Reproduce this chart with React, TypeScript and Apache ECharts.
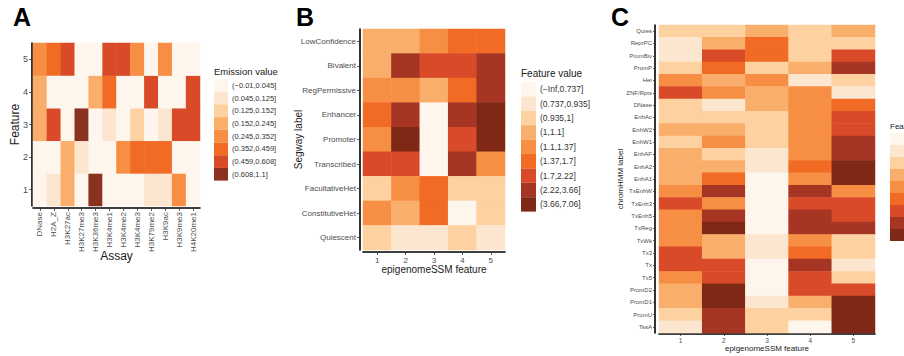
import React, { useEffect, useRef } from 'react';
import * as echarts from 'echarts';

// ---------- Panel A data ----------
const assays = ['DNase', 'H2A_Z', 'H3K27ac', 'H3K27me3', 'H3K36me3', 'H3K4me1', 'H3K4me2', 'H3K4me3', 'H3K79me2', 'H3K9ac', 'H3K9me3', 'H4K20me1'];
const featuresA = ['1', '2', '3', '4', '5'];
const emissionF1 = [0.01, 0.07, 0.22, 0.02, 0.81, 0.02, 0.01, 0.03, 0.09, 0.08, 0.33, 0.02];
const emissionF2 = [0.02, 0.03, 0.18, 0.06, 0.01, 0.02, 0.28, 0.37, 0.42, 0.39, 0.02, 0.03];
const emissionF3 = [0.17, 0.51, 0.03, 0.72, 0.02, 0.07, 0.03, 0.14, 0.02, 0.08, 0.49, 0.53];
const emissionF4 = [0.21, 0.03, 0.02, 0.04, 0.19, 0.38, 0.02, 0.03, 0.48, 0.02, 0.01, 0.47];
const emissionF5 = [0.31, 0.40, 0.52, 0.02, 0.01, 0.55, 0.50, 0.29, 0.03, 0.27, 0.01, 0.02];
const breaksA = [-0.01, 0.045, 0.125, 0.152, 0.245, 0.352, 0.459, 0.608, 1.1];
const labelsA = ['(\u22120.01,0.045]', '(0.045,0.125]', '(0.125,0.152]', '(0.152,0.245]', '(0.245,0.352]', '(0.352,0.459]', '(0.459,0.608]', '(0.608,1.1]'];

// ---------- Panel B data ----------
const segwayLabels = ['LowConfidence', 'Bivalent', 'RegPermissive', 'Enhancer', 'Promoter', 'Transcribed', 'FacultativeHet', 'ConstitutiveHet', 'Quiescent'];
const featuresBC = ['1', '2', '3', '4', '5'];
const segwayF1 = [1.06, 1.04, 1.21, 1.45, 1.28, 1.92, 0.98, 1.25, 0.96];
const segwayF2 = [1.07, 2.75, 1.18, 2.61, 4.12, 2.05, 1.31, 1.08, 0.86];
const segwayF3 = [1.24, 1.88, 1.03, 0.42, 0.35, 0.51, 1.55, 1.62, 0.82];
const segwayF4 = [1.58, 2.01, 1.49, 3.05, 2.13, 2.86, 0.97, 0.69, 0.99];
const segwayF5 = [1.61, 3.12, 3.34, 5.2, 4.83, 1.19, 0.95, 0.98, 0.84];
const breaksB = [-Infinity, 0.737, 0.935, 1, 1.1, 1.37, 1.7, 2.22, 3.66, 7.06];
const labelsB = ['(\u2212Inf,0.737]', '(0.737,0.935]', '(0.935,1]', '(1,1.1]', '(1.1,1.37]', '(1.37,1.7]', '(1.7,2.22]', '(2.22,3.66]', '(3.66,7.06]'];

// ---------- Panel C data ----------
const chromLabels = ['Quies', 'ReprPC', 'PromBiv', 'PromP', 'Het', 'ZNF/Rpts', 'DNase', 'EnhAc', 'EnhW2', 'EnhW1', 'EnhAF', 'EnhA2', 'EnhA1', 'TxEnhW', 'TxEnh3', 'TxEnh5', 'TxReg', 'TxWk', 'Tx3', 'Tx', 'Tx5', 'PromD2', 'PromD1', 'PromU', 'TssA'];
const chromF1 = [0.96, 0.88, 0.84, 0.99, 1.24, 1.98, 0.97, 0.95, 1.06, 0.98, 1.07, 1.04, 1.08, 1.29, 2.04, 1.31, 1.27, 1.22, 1.86, 2.11, 1.33, 1.09, 1.05, 0.97, 0.81];
const chromF2 = [0.98, 1.06, 1.95, 1.52, 1.04, 1.26, 0.89, 0.96, 1.08, 1.23, 0.99, 1.03, 1.47, 2.64, 1.19, 2.93, 4.21, 1.07, 1.05, 2.08, 1.84, 4.55, 4.87, 3.12, 2.95];
const chromF3 = [1.02, 1.55, 1.61, 0.98, 1.21, 1.06, 1.08, 0.99, 0.97, 0.96, 0.82, 0.79, 0.41, 0.38, 0.33, 0.36, 0.29, 0.84, 0.87, 0.45, 0.52, 0.48, 0.86, 0.96, 0.99];
const chromF4 = [0.99, 0.96, 0.98, 1.07, 0.84, 1.31, 1.28, 1.25, 1.22, 1.24, 1.29, 1.58, 1.18, 2.71, 1.93, 2.58, 2.87, 1.21, 1.49, 2.62, 2.01, 1.96, 1.06, 0.97, 0.61];
const chromF5 = [1.08, 0.98, 2.12, 3.05, 0.97, 0.86, 1.56, 1.89, 2.02, 2.74, 3.21, 5.12, 4.79, 1.26, 1.97, 2.06, 2.45, 0.98, 0.96, 0.83, 0.99, 1.91, 4.66, 5.48, 6.12];

// ---------- palettes ----------
const paletteA = ['#FEF5ED', '#FDE6CF', '#FDD1A0', '#FAAE6B', '#F68E43', '#F16B25', '#D94B28', '#8B3120'];
const paletteB = ['#FEF5ED', '#FDE6CF', '#FDD1A0', '#FAAE6B', '#F68E43', '#F16B25', '#D94B28', '#A63523', '#7F2816'];

const FONT = '"Liberation Sans", Arial, Helvetica, sans-serif';

function buildRows(rows: number[][]) {
  // rows[i][j]: y index i, x index j
  const out: number[][] = [];
  rows.forEach((row, yi) => row.forEach((v, xi) => out.push([xi, yi, v])));
  return out;
}
function buildCols(cols: number[][]) {
  // cols[j][i]: x index j, y index i
  const out: number[][] = [];
  cols.forEach((col, xi) => col.forEach((v, yi) => out.push([xi, yi, v])));
  return out;
}

function pieces(breaks: number[], labels: string[], palette: string[]) {
  return labels.map((label, i) => {
    const p: any = { lte: breaks[i + 1], label, color: palette[i] };
    if (isFinite(breaks[i])) p.gt = breaks[i];
    return p;
  });
}

const axisLineStyle = { show: true, lineStyle: { color: '#000', width: 1.6 } };
const tickStyle = (len: number) => ({ show: true, alignWithLabel: true, length: len, lineStyle: { color: '#333', width: 0.8 } });

export default function App() {
  const ref = useRef<HTMLDivElement>(null);
  useEffect(() => {
    if (!ref.current) return;
    const chart = echarts.init(ref.current, null, { renderer: 'svg' });

    const dataA = buildRows([emissionF1, emissionF2, emissionF3, emissionF4, emissionF5]);
    const dataB = buildCols([segwayF1, segwayF2, segwayF3, segwayF4, segwayF5]);
    const dataC = buildCols([chromF1, chromF2, chromF3, chromF4, chromF5]);

    const labelBase = { color: '#4D4D4D', fontFamily: FONT };

    const option: any = {
      animation: false,
      backgroundColor: '#fff',
      grid: [
        { left: 33, top: 43, width: 167, height: 163 },
        { left: 363, top: 29, width: 142, height: 221 },
        { left: 659, top: 25, width: 216, height: 308 },
      ],
      xAxis: [
        {
          type: 'category', gridIndex: 0, data: assays, offset: 2,
          axisLine: axisLineStyle, axisTick: tickStyle(3), splitLine: { show: false },
          axisLabel: { ...labelBase, rotate: 90, fontSize: 8, margin: 4, interval: 0 },
        },
        {
          type: 'category', gridIndex: 1, data: featuresBC, offset: 2,
          axisLine: axisLineStyle, axisTick: tickStyle(3), splitLine: { show: false },
          axisLabel: { ...labelBase, fontSize: 8, margin: 4, interval: 0 },
        },
        {
          type: 'category', gridIndex: 2, data: featuresBC, offset: 1,
          axisLine: axisLineStyle, axisTick: tickStyle(2), splitLine: { show: false },
          axisLabel: { ...labelBase, fontSize: 6.5, margin: 3, interval: 0 },
        },
      ],
      yAxis: [
        {
          type: 'category', gridIndex: 0, data: featuresA, offset: 1,
          axisLine: axisLineStyle, axisTick: tickStyle(3), splitLine: { show: false },
          axisLabel: { ...labelBase, fontSize: 9, margin: 4, interval: 0 },
        },
        {
          type: 'category', gridIndex: 1, data: segwayLabels, inverse: true, offset: 3,
          axisLine: axisLineStyle, axisTick: tickStyle(3), splitLine: { show: false },
          axisLabel: { ...labelBase, fontSize: 8, margin: 4, interval: 0 },
        },
        {
          type: 'category', gridIndex: 2, data: chromLabels, inverse: true, offset: 4,
          axisLine: axisLineStyle, axisTick: tickStyle(2), splitLine: { show: false },
          axisLabel: { ...labelBase, fontSize: 6, margin: 3, interval: 0 },
        },
      ],
      visualMap: [
        {
          type: 'piecewise', seriesIndex: 0, dimension: 2, orient: 'vertical', inverse: true,
          left: 214, top: 79, padding: 0, itemWidth: 14, itemHeight: 12.7, itemGap: 0,
          itemSymbol: 'rect', align: 'left', textGap: 4, selectedMode: false, hoverLink: false,
          textStyle: { fontSize: 7.5, color: '#333', fontFamily: FONT },
          pieces: pieces(breaksA, labelsA, paletteA),
        },
        {
          type: 'piecewise', seriesIndex: 1, dimension: 2, orient: 'vertical', inverse: true,
          left: 521, top: 82, padding: 0, itemWidth: 15, itemHeight: 14.4, itemGap: 0,
          itemSymbol: 'rect', align: 'left', textGap: 4, selectedMode: false, hoverLink: false,
          textStyle: { fontSize: 8.5, color: '#333', fontFamily: FONT },
          pieces: pieces(breaksB, labelsB, paletteB),
        },
        {
          type: 'piecewise', seriesIndex: 2, dimension: 2, orient: 'vertical', inverse: true,
          left: 890, top: 133, padding: 0, itemWidth: 14, itemHeight: 12, itemGap: 0,
          itemSymbol: 'rect', align: 'left', textGap: 4, selectedMode: false, hoverLink: false,
          textStyle: { fontSize: 7, color: '#333', fontFamily: FONT },
          pieces: pieces(breaksB, labelsB, paletteB),
        },
      ],
      series: [
        { type: 'heatmap', xAxisIndex: 0, yAxisIndex: 0, data: dataA, itemStyle: { borderWidth: 0 }, emphasis: { disabled: true } },
        { type: 'heatmap', xAxisIndex: 1, yAxisIndex: 1, data: dataB, itemStyle: { borderWidth: 0 }, emphasis: { disabled: true } },
        { type: 'heatmap', xAxisIndex: 2, yAxisIndex: 2, data: dataC, itemStyle: { borderWidth: 0 }, emphasis: { disabled: true } },
      ],
      graphic: [
        { type: 'text', left: 13, top: 4, style: { text: 'A', fontSize: 25, fontWeight: 'bold', fontFamily: FONT, fill: '#000' } },
        { type: 'text', left: 296, top: 4, style: { text: 'B', fontSize: 25, fontWeight: 'bold', fontFamily: FONT, fill: '#000' } },
        { type: 'text', left: 611, top: 4, style: { text: 'C', fontSize: 25, fontWeight: 'bold', fontFamily: FONT, fill: '#000' } },
        { type: 'text', x: 116.5, y: 256, style: { text: 'Assay', fontSize: 12, fontFamily: FONT, fill: '#1A1A1A', align: 'center', verticalAlign: 'middle' } },
        { type: 'text', x: 15, y: 124.5, rotation: Math.PI / 2, style: { text: 'Feature', fontSize: 12, fontFamily: FONT, fill: '#1A1A1A', align: 'center', verticalAlign: 'middle' } },
        { type: 'text', x: 214, y: 71, style: { text: 'Emission value', fontSize: 9.5, fontFamily: FONT, fill: '#1A1A1A', align: 'left', verticalAlign: 'middle' } },
        { type: 'text', x: 434, y: 269, style: { text: 'epigenomeSSM feature', fontSize: 10, fontFamily: FONT, fill: '#1A1A1A', align: 'center', verticalAlign: 'middle' } },
        { type: 'text', x: 298, y: 139.5, rotation: Math.PI / 2, style: { text: 'Segway label', fontSize: 10, fontFamily: FONT, fill: '#1A1A1A', align: 'center', verticalAlign: 'middle' } },
        { type: 'text', x: 521, y: 73, style: { text: 'Feature value', fontSize: 10, fontFamily: FONT, fill: '#1A1A1A', align: 'left', verticalAlign: 'middle' } },
        { type: 'text', x: 767, y: 348, style: { text: 'epigenomeSSM feature', fontSize: 8, fontFamily: FONT, fill: '#1A1A1A', align: 'center', verticalAlign: 'middle' } },
        { type: 'text', x: 620, y: 179, rotation: Math.PI / 2, style: { text: 'chromHMM label', fontSize: 8, fontFamily: FONT, fill: '#1A1A1A', align: 'center', verticalAlign: 'middle' } },
        { type: 'text', x: 890, y: 126, style: { text: 'Feature value', fontSize: 8, fontFamily: FONT, fill: '#1A1A1A', align: 'left', verticalAlign: 'middle' } },
      ],
    };
    chart.setOption(option);
    return () => chart.dispose();
  }, []);
  return <div ref={ref} style={{ position: 'fixed', left: 0, top: 0, width: 904, height: 356 }} />;
}
